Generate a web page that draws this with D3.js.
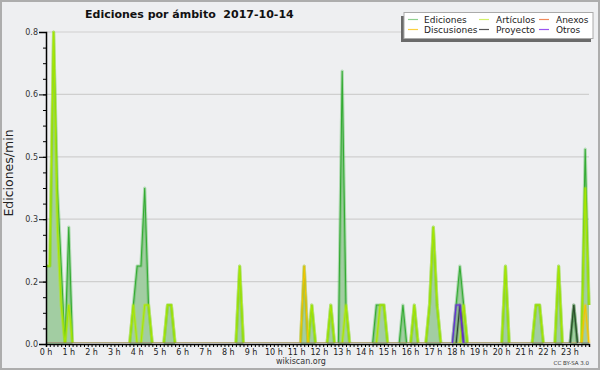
<!DOCTYPE html>
<html lang="es">
	<head>
		<meta charset="utf-8">
		<title>Ediciones por ámbito</title>
		<script src="https://cdn.jsdelivr.net/npm/d3@7"></script>
		<style>
			body { margin: 0; background: #fff; }
			svg text { font-family: "DejaVu Sans", sans-serif; }
		</style>
	</head>
	<body>
		<script>
			// 10 minute bins, edits per minute, 14 Oct 2017
			var ediciones = [
				0.2,0.2,0.8,0.4,0.2,0,0.3,0,0,0,0,0,
				0,0,0,0,0,0,0,0,0,0,0,0.1,
				0.2,0.2,0.4,0.1,0,0,0,0,0.1,0.1,0,0,
				0,0,0,0,0,0,0,0,0,0,0,0,
				0,0,0,0.2,0,0,0,0,0,0,0,0,
				0,0,0,0,0,0,0,0,0.2,0,0.1,0,
				0,0,0,0.1,0,0,0.7,0.1,0,0,0,0,
				0,0,0,0.1,0.1,0.1,0,0,0,0,0.1,0,
				0,0.1,0,0,0,0.1,0.3,0.1,0,0,0,0,
				0.1,0.2,0.1,0,0,0,0,0,0,0,0,0,
				0,0.2,0,0,0,0,0,0,0,0.1,0.1,0,
				0,0,0,0.2,0,0,0,0.1,0,0,0.5,0.1
			]
			var articulos = [
				0.2,0.2,0.8,0.3,0.1,0,0.1,0,0,0,0,0,
				0,0,0,0,0,0,0,0,0,0,0,0.1,
				0,0,0.1,0.1,0,0,0,0,0.1,0.1,0,0,
				0,0,0,0,0,0,0,0,0,0,0,0,
				0,0,0,0.2,0,0,0,0,0,0,0,0,
				0,0,0,0,0,0,0,0,0,0,0.1,0,
				0,0,0,0.1,0,0,0,0.1,0,0,0,0,
				0,0,0,0,0.1,0.1,0,0,0,0,0,0,
				0,0.1,0,0,0,0.1,0.3,0.1,0,0,0,0,
				0,0,0.1,0,0,0,0,0,0,0,0,0,
				0,0.2,0,0,0,0,0,0,0,0.1,0.1,0,
				0,0,0,0.2,0,0,0,0,0,0,0.4,0.1
			]
			var discusiones = [
				0,0,0,0,0,0,0,0,0,0,0,0,
				0,0,0,0,0,0,0,0,0,0,0,0,
				0,0,0,0,0,0,0,0,0,0,0,0,
				0,0,0,0,0,0,0,0,0,0,0,0,
				0,0,0,0,0,0,0,0,0,0,0,0,
				0,0,0,0,0,0,0,0,0.2,0,0,0,
				0,0,0,0,0,0,0,0,0,0,0,0,
				0,0,0,0,0,0,0,0,0,0,0,0,
				0,0,0,0,0,0,0,0,0,0,0,0,
				0,0,0,0,0,0,0,0,0,0,0,0,
				0,0,0,0,0,0,0,0,0,0,0,0,
				0,0,0,0,0,0,0,0,0,0,0.1,0
			]
			var anexos = [
				0,0,0,0,0,0,0,0,0,0,0,0,
				0,0,0,0,0,0,0,0,0,0,0,0,
				0,0,0,0,0,0,0,0,0,0,0,0,
				0,0,0,0,0,0,0,0,0,0,0,0,
				0,0,0,0,0,0,0,0,0,0,0,0,
				0,0,0,0,0,0,0,0,0,0,0,0,
				0,0,0,0,0,0,0,0,0,0,0,0,
				0,0,0,0,0,0,0,0,0,0,0,0,
				0,0,0,0,0,0,0,0,0,0,0,0,
				0,0,0,0,0,0,0,0,0,0,0,0,
				0,0,0,0,0,0,0,0,0,0,0,0,
				0,0,0,0,0,0,0,0,0,0,0,0
			]
			var proyecto = [
				0,0,0,0,0,0,0,0,0,0,0,0,
				0,0,0,0,0,0,0,0,0,0,0,0,
				0,0,0,0,0,0,0,0,0,0,0,0,
				0,0,0,0,0,0,0,0,0,0,0,0,
				0,0,0,0,0,0,0,0,0,0,0,0,
				0,0,0,0,0,0,0,0,0,0,0,0,
				0,0,0,0,0,0,0,0,0,0,0,0,
				0,0,0,0,0,0,0,0,0,0,0,0,
				0,0,0,0,0,0,0,0,0,0,0,0,
				0,0.1,0,0,0,0,0,0,0,0,0,0,
				0,0,0,0,0,0,0,0,0,0,0,0,
				0,0,0,0,0,0,0,0.1,0,0,0,0
			]
			var otros = [
				0,0,0,0,0,0,0,0,0,0,0,0,
				0,0,0,0,0,0,0,0,0,0,0,0,
				0,0,0,0,0,0,0,0,0,0,0,0,
				0,0,0,0,0,0,0,0,0,0,0,0,
				0,0,0,0,0,0,0,0,0,0,0,0,
				0,0,0,0,0,0,0,0,0,0,0,0,
				0,0,0,0,0,0,0,0,0,0,0,0,
				0,0,0,0,0,0,0,0,0,0,0,0,
				0,0,0,0,0,0,0,0,0,0,0,0,
				0.1,0.1,0,0,0,0,0,0,0,0,0,0,
				0,0,0,0,0,0,0,0,0,0,0,0,
				0,0,0,0,0,0,0,0,0,0,0,0
			]
			var hourLabels = ["0 h","1 h","2 h","3 h","4 h","5 h","6 h","7 h","8 h","9 h","10 h","11 h",
				"12 h","13 h","14 h","15 h","16 h","17 h","18 h","19 h","20 h","21 h","22 h","23 h"]
			var yTicks = [0, 0.16, 0.32, 0.48, 0.64, 0.8]
			var legendNames = ["Ediciones","Artículos","Anexos","Discusiones","Proyecto","Otros"]

			var w = 600, h = 370
			var padL = 46, padR = 589, padT = 32, padB = 344

			var svg = d3.select("body").append("svg").attr("width", w).attr("height", h)

			svg.append("rect").attr("x", 1).attr("y", 1).attr("width", w - 2).attr("height", h - 2)
				.attr("fill", "#eeeff1").attr("stroke", "#adadad").attr("stroke-width", 2)

			// keep the zero baselines of the series hidden under the axis
			svg.append("clipPath").attr("id", "plotclip")
				.append("rect").attr("x", padL - 2).attr("y", 0).attr("width", padR - padL + 4).attr("height", padB - 1)

			var x = d3.scaleLinear().domain([0, ediciones.length - 1]).range([padL, padR])
			var y = d3.scaleLinear().domain([0, 0.8]).range([padB, padT])

			// grid
			svg.selectAll(".grid")
				.data(yTicks.slice(1))
				.enter()
				.append("line")
				.attr("x1", padL).attr("x2", padR)
				.attr("y1", function(d) { return y(d) }).attr("y2", function(d) { return y(d) })
				.attr("stroke", "#cfcfcf").attr("stroke-width", 1.2)

			var line = d3.line().x(function(d, i) { return x(i) }).y(function(d) { return y(d) })
			var area = d3.area().x(function(d, i) { return x(i) }).y0(y(0)).y1(function(d) { return y(d) })

			var plot = svg.append("g")
			plot.append("path").attr("d", area(ediciones)).attr("fill", "#a2cda2")

			var lines = svg.append("g").attr("clip-path", "url(#plotclip)")

			var series = [
				{ v: ediciones, c: "#34ab34", g: "rgba(60,180,60,0.35)" },
				{ v: articulos, c: "#a8e600", g: "rgba(180,240,0,0.45)" },
				{ v: discusiones, c: "#f4c400", g: "rgba(250,200,0,0.4)" },
				{ v: anexos, c: "#f08040", g: "rgba(240,128,64,0.3)" },
				{ v: proyecto, c: "#2e4a2e", g: "rgba(40,70,40,0.3)" },
				{ v: otros, c: "#6a28e0", g: "rgba(110,40,225,0.3)" }
			]

			series.forEach(function(s) {
				lines.append("path").attr("d", line(s.v)).attr("fill", "none")
					.attr("stroke", s.g).attr("stroke-width", 3.2).attr("stroke-linejoin", "round")
				lines.append("path").attr("d", line(s.v)).attr("fill", "none")
					.attr("stroke", s.c).attr("stroke-width", 1.1)
			})

			// axes
			var yAxis = d3.axisLeft(y).tickValues(yTicks).tickSize(7).tickPadding(1).tickFormat(d3.format(".1f"))
			var gy = svg.append("g").attr("transform", "translate(" + padL + ",0)").call(yAxis)
			gy.select(".domain").attr("stroke-width", 1.5)
			gy.selectAll("text").attr("font-size", "8px").attr("fill", "#333").attr("font-family", "DejaVu Sans")

			var yMinor = d3.axisLeft(y).tickValues(d3.range(0, 0.801, 0.04)).tickSize(3).tickFormat("")
			svg.append("g").attr("transform", "translate(" + padL + ",0)").call(yMinor)
				.select(".domain").remove()

			var xAxis = d3.axisBottom(x).tickValues(d3.range(0, ediciones.length)).tickSize(3).tickFormat("")
			var gx = svg.append("g").attr("transform", "translate(0," + padB + ")").call(xAxis)
			gx.select(".domain").attr("stroke-width", 1.5)

			svg.selectAll(".hlab")
				.data(hourLabels)
				.enter()
				.append("text")
				.attr("class", "hlab")
				.attr("x", function(d, i) { return x(i * 6) })
				.attr("y", 355)
				.attr("text-anchor", "middle")
				.attr("font-size", "8px")
				.attr("fill", "#222")
				.text(function(d) { return d })

			// titles
			svg.append("text").attr("x", 85).attr("y", 17.5)
				.attr("font-size", "11px").attr("font-weight", "bold").attr("fill", "#111")
				.attr("xml:space", "preserve")
				.text("Ediciones por ámbito  2017-10-14")

			svg.append("text")
				.attr("transform", "translate(13,173) rotate(-90)")
				.attr("text-anchor", "middle")
				.attr("font-family", "DejaVu Sans Mono")
				.attr("font-size", "12.5px").attr("fill", "#222")
				.text("Ediciones/min")

			svg.append("text").attr("x", 301).attr("y", 364).attr("text-anchor", "middle")
				.attr("font-size", "8px").attr("fill", "#333").text("wikiscan.org")
			svg.append("text").attr("x", 589).attr("y", 365).attr("text-anchor", "end")
				.attr("font-size", "5.5px").attr("fill", "#333").text("CC BY-SA 3.0")

			// legend
			var lg = svg.append("g")
			lg.append("rect").attr("x", 401).attr("y", 16).attr("width", 190).attr("height", 26).attr("fill", "#6a6a6a")
			lg.append("rect").attr("x", 404).attr("y", 12.5).attr("width", 189).attr("height", 26)
				.attr("fill", "#fff").attr("stroke", "#aaa").attr("stroke-width", 1)

			var swatch = ["#8fd08f", "#d2f06a", "#f08a5c", "#fbd040", "#555555", "#9a55f0"]
			var colX = [408, 479, 539]
			var textX = [424, 496, 556]
			var rowY = [19.5, 29.5]

			lg.selectAll(".sw")
				.data(legendNames)
				.enter()
				.append("line")
				.attr("x1", function(d, i) { return colX[i % 3] })
				.attr("x2", function(d, i) { return colX[i % 3] + 10 })
				.attr("y1", function(d, i) { return rowY[Math.floor(i / 3)] })
				.attr("y2", function(d, i) { return rowY[Math.floor(i / 3)] })
				.attr("stroke", function(d, i) { return swatch[i] })
				.attr("stroke-width", 1.2)

			lg.selectAll(".lt")
				.data(legendNames)
				.enter()
				.append("text")
				.attr("x", function(d, i) { return textX[i % 3] })
				.attr("y", function(d, i) { return rowY[Math.floor(i / 3)] + 3.3 })
				.attr("font-size", "9px")
				.attr("fill", "#222")
				.text(function(d) { return d })
		</script>
	</body>
</html>
